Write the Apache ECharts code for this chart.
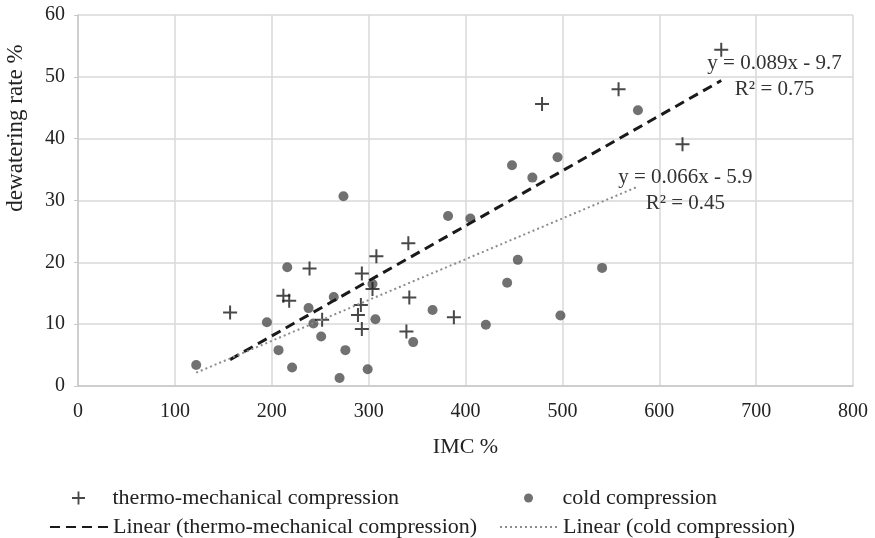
<!DOCTYPE html>
<html>
<head>
<meta charset="utf-8">
<script src="https://cdn.jsdelivr.net/npm/echarts@6/dist/echarts.min.js"></script>
<style>
  html, body { margin: 0; padding: 0; background: #fff; }
  #chart { width: 875px; height: 538px; }
</style>
</head>
<body>
<div id="chart"></div>
<script>
// IMC % / dewatering rate %
const thermoX = [157, 212, 218, 239, 252, 293, 308, 304, 292, 289, 293, 341, 342, 339, 388, 479, 558, 624, 664]
const thermoY = [11.9, 14.6, 13.8, 19.0, 10.7, 18.2, 21.0, 15.7, 13.1, 11.5, 9.2, 23.1, 14.3, 8.8, 11.1, 45.6, 48.0, 39.1, 54.4]
const coldX = [122, 195, 207, 216, 221, 238, 243, 251, 264, 270, 274, 276, 299, 304, 307, 346, 366, 382, 405, 421, 443, 448, 454, 469, 495, 498, 541, 578]
const coldY = [3.4, 10.3, 5.8, 19.2, 3.0, 12.6, 10.1, 8.0, 14.4, 1.3, 30.7, 5.8, 2.7, 16.5, 10.8, 7.1, 12.3, 27.5, 27.1, 9.9, 16.7, 35.7, 20.4, 33.7, 37.0, 11.4, 19.1, 44.6]

// trendline coefficients as printed on the chart [slope, intercept, R²]
const thermoFit = [0.089, -9.7, 0.75]
const coldFit = [0.066, -5.9, 0.45]

const seriesNames = [
  'thermo-mechanical compression',
  'cold compression',
  'Linear (thermo-mechanical compression)',
  'Linear (cold compression)'
]

const xAxisRange = [0, 800, 100]
const yAxisRange = [0, 60, 10]

const FONT = 'Liberation Serif'
const PLUS = 'path://M6,0h2v6h6v2h-6v6h-2v-6h-6v-2h6z'

function pairs(xs, ys) {
  return xs.map((x, i) => [x, ys[i]])
}

function fitLine(xs, fit) {
  const lo = Math.min(...xs)
  const hi = Math.max(...xs)
  return [[lo, fit[0] * lo + fit[1]], [hi, fit[0] * hi + fit[1]]]
}

function eqText(fit) {
  const b = fit[1] < 0 ? ' - ' + Math.abs(fit[1]) : ' + ' + fit[1]
  return 'y = ' + fit[0] + 'x' + b + '\nR² = ' + fit[2]
}

// one legend per entry so the 2x2 layout is fixed
function legendItem(name, left, top, iconH, hideSymbol) {
  return {
    left: left,
    top: top,
    itemWidth: 58,
    itemHeight: iconH,
    textStyle: { fontFamily: FONT, fontSize: 22, color: '#222' },
    data: [hideSymbol ? { name: name, itemStyle: { opacity: 0 } } : name]
  }
}

const chart = echarts.init(document.getElementById('chart'), null, { renderer: 'canvas' })
chart.setOption({
  animation: false,
  grid: { left: 78, right: 22, top: 15, bottom: 152 },
  xAxis: {
    type: 'value',
    min: xAxisRange[0],
    max: xAxisRange[1],
    interval: xAxisRange[2],
    name: 'IMC %',
    nameLocation: 'middle',
    nameGap: 50,
    nameTextStyle: { fontFamily: FONT, fontSize: 22, color: '#222' },
    axisLine: { lineStyle: { color: '#c8c8c8', width: 1.5 } },
    axisTick: { show: false },
    axisLabel: { fontFamily: FONT, fontSize: 20, color: '#222', margin: 16 },
    splitLine: { lineStyle: { color: '#d9d9d9', width: 1.5 } }
  },
  yAxis: {
    type: 'value',
    min: yAxisRange[0],
    max: yAxisRange[1],
    interval: yAxisRange[2],
    axisLine: { show: true, lineStyle: { color: '#c8c8c8', width: 1.5 } },
    axisTick: { show: true, length: 4, lineStyle: { color: '#c8c8c8' } },
    axisLabel: { fontFamily: FONT, fontSize: 20, color: '#222', margin: 13 },
    splitLine: { lineStyle: { color: '#d9d9d9', width: 1.5 } }
  },
  graphic: [
    {
      type: 'text',
      x: 16,
      y: 128,
      rotation: Math.PI / 2,
      style: {
        text: 'dewatering rate %',
        font: '23px "Liberation Serif"',
        fill: '#222',
        textAlign: 'center',
        textVerticalAlign: 'middle'
      }
    }
  ],
  legend: [
    legendItem(seriesNames[0], 67, 482, 13, false),
    legendItem(seriesNames[2], 44, 511, 13, true),
    legendItem(seriesNames[1], 519, 482, 9, false),
    legendItem(seriesNames[3], 494, 511, 9, true)
  ],
  series: [
    {
      name: seriesNames[0],
      type: 'scatter',
      symbol: PLUS,
      symbolSize: 14,
      itemStyle: { color: '#1a1a1a' },
      z: 3,
      data: pairs(thermoX, thermoY)
    },
    {
      name: seriesNames[1],
      type: 'scatter',
      symbol: 'circle',
      symbolSize: 10,
      itemStyle: { color: '#4d4d4d' },
      z: 2,
      data: pairs(coldX, coldY)
    },
    {
      name: seriesNames[2],
      type: 'line',
      symbol: 'none',
      z: 4,
      itemStyle: { color: '#1a1a1a' },
      lineStyle: { color: '#1a1a1a', width: 3, type: [10, 6] },
      data: fitLine(thermoX, thermoFit),
      markPoint: {
        symbol: 'circle',
        symbolSize: 0,
        silent: true,
        label: {
          show: true,
          position: 'inside',
          fontFamily: FONT,
          fontSize: 21,
          lineHeight: 26,
          color: '#333',
          formatter: () => eqText(thermoFit)
        },
        data: [{ coord: [719, 50.1] }]
      }
    },
    {
      name: seriesNames[3],
      type: 'line',
      symbol: 'none',
      z: 4,
      itemStyle: { color: '#8c8c8c' },
      lineStyle: { color: '#8c8c8c', width: 2, type: [2, 3] },
      data: fitLine(coldX, coldFit),
      markPoint: {
        symbol: 'circle',
        symbolSize: 0,
        silent: true,
        label: {
          show: true,
          position: 'inside',
          fontFamily: FONT,
          fontSize: 21,
          lineHeight: 26,
          color: '#333',
          formatter: () => eqText(coldFit)
        },
        data: [{ coord: [627, 31.7] }]
      }
    }
  ]
})
</script>
</body>
</html>
